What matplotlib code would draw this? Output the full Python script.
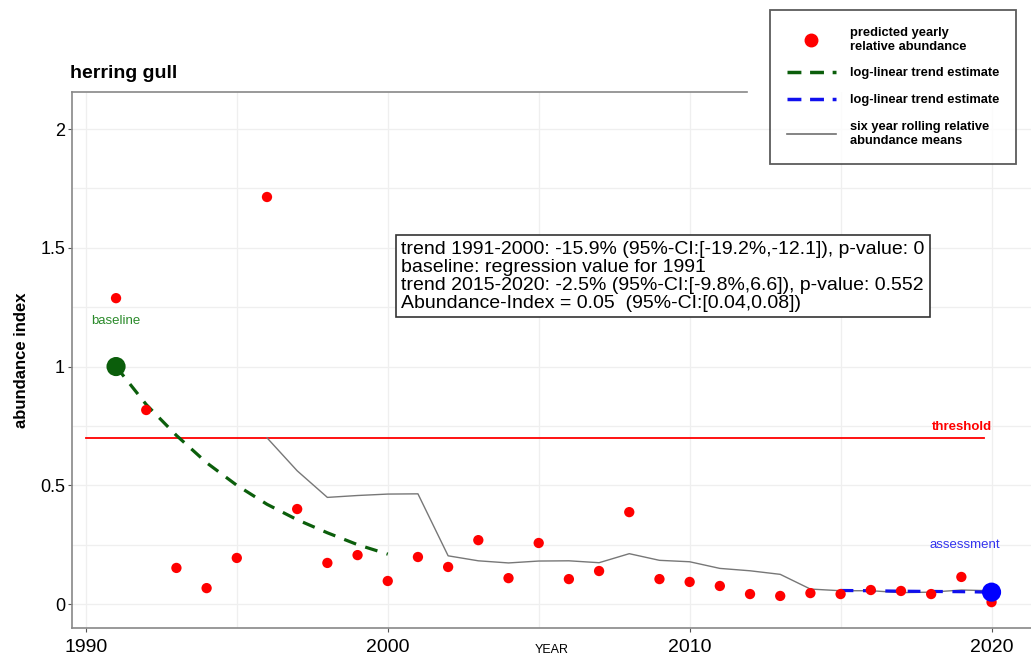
import matplotlib.pyplot as plt
from matplotlib.lines import Line2D

plt.rcParams['font.family'] = ['Liberation Sans', 'DejaVu Sans']

# yearly predicted relative abundance
years = list(range(1991, 2021))
abundance = [1.288, 0.817, 0.152, 0.067, 0.194, 1.714, 0.400, 0.173, 0.206, 0.097,
             0.198, 0.156, 0.269, 0.109, 0.257, 0.105, 0.139, 0.387, 0.105, 0.093,
             0.076, 0.042, 0.034, 0.046, 0.042, 0.059, 0.055, 0.042, 0.114, 0.008]

# six year rolling means
roll_years = list(range(1996, 2021))
roll_means = [0.700, 0.561, 0.449, 0.457, 0.463, 0.464, 0.203, 0.182, 0.173, 0.181,
              0.182, 0.174, 0.212, 0.184, 0.178, 0.150, 0.140, 0.125, 0.063, 0.056,
              0.056, 0.048, 0.050, 0.059, 0.056]

# log-linear trends
trend1_years = list(range(1991, 2001))
trend1_vals = [1.0, 0.84, 0.71, 0.595, 0.50, 0.42, 0.355, 0.30, 0.25, 0.21]
trend2_years = list(range(2015, 2021))
trend2_vals = [0.057, 0.056, 0.054, 0.053, 0.052, 0.050]

threshold = 0.7
baseline = (1991, 1.0)
assessment = (2020, 0.05)

info = ("trend 1991-2000: -15.9% (95%-CI:[-19.2%,-12.1]), p-value: 0\n"
        "baseline: regression value for 1991\n"
        "trend 2015-2020: -2.5% (95%-CI:[-9.8%,6.6]), p-value: 0.552\n"
        "Abundance-Index = 0.05  (95%-CI:[0.04,0.08])")

fig = plt.figure(figsize=(10.31, 6.64), dpi=100)
ax = fig.add_axes([0.0698, 0.0542, 0.93, 0.8072])

ax.set_xlim(1989.54, 2021.3)
ax.set_ylim(-0.101, 2.156)

# grid
ax.set_xticks([1990, 2000, 2010, 2020])
ax.set_xticks([1995, 2005, 2015], minor=True)
ax.set_yticks([0, 0.5, 1, 1.5, 2])
ax.set_yticklabels(['0', '0.5', '1', '1.5', '2'])
ax.set_yticks([0.25, 0.75, 1.25, 1.75], minor=True)
ax.grid(True, which='both', color='#efefef', lw=0.9)
ax.set_axisbelow(True)
ax.tick_params(axis='both', which='minor', length=0)
ax.tick_params(axis='y', length=3, color='#555555', labelsize=13, pad=2)
ax.tick_params(axis='x', length=3, color='#555555', labelsize=14, pad=5)

for s in ['left', 'bottom', 'top']:
    ax.spines[s].set_color('#888888')
    ax.spines[s].set_linewidth(1.2)
ax.spines['right'].set_visible(False)
ax.spines['top'].set_bounds(1989.54, 2011.9)

ax.axhline(threshold, xmin=0.0146, xmax=0.9508, color='red', lw=1.3, zorder=2)
ax.plot(roll_years, roll_means, color='#777777', lw=1.0, zorder=3)
ax.plot(trend1_years, trend1_vals, color='#0b5e0b', lw=2.3, ls=(0, (4, 3)), zorder=3)
ax.plot(trend2_years, trend2_vals, color='#1010ee', lw=2.3, ls=(0, (4, 3)), zorder=3)
ax.scatter(years, abundance, s=55, color='red', zorder=4, edgecolors='none')
ax.scatter([baseline[0]], [baseline[1]], s=190, color='#0b5e0b', zorder=5, edgecolors='none')
ax.scatter([assessment[0]], [assessment[1]], s=190, color='#0000ff', zorder=5, edgecolors='none')

ax.text(1991, 1.19, 'baseline', color='#2a8a2a', fontsize=9.5, ha='center', va='center')
ax.text(2020, 0.745, 'threshold', color='red', fontsize=9.5, fontweight='bold',
        ha='right', va='center')
ax.text(2020.3, 0.25, 'assessment', color='#3333ee', fontsize=9.5, ha='right', va='center')

ax.text(2000.45, 1.53, info, fontsize=14, va='top', ha='left', linespacing=1.08,
        bbox=dict(boxstyle='square,pad=0.28', fc='white', ec='#333333', lw=1.2))

ax.set_xlabel('YEAR', fontsize=9, labelpad=-9)
ax.set_ylabel('abundance index', fontsize=12, fontweight='bold', labelpad=8)

fig.text(0.068, 0.89, 'herring gull', fontsize=14, fontweight='bold', ha='left', va='center')

handles = [
    Line2D([], [], ls='none', marker='o', color='red', markersize=9),
    Line2D([], [], color='#0b5e0b', lw=2.5, ls=(0, (4, 2.5))),
    Line2D([], [], color='#1010ee', lw=2.5, ls=(0, (4, 2.5))),
    Line2D([], [], color='#707070', lw=1.2),
]
labels = ['predicted yearly\nrelative abundance', 'log-linear trend estimate',
          'log-linear trend estimate', 'six year rolling relative\nabundance means']
leg = fig.legend(handles, labels, loc='upper left', bbox_to_anchor=(0.7468, 0.985),
                 frameon=True, fancybox=False, edgecolor='#333333',
                 prop={'weight': 'bold', 'size': 9.3}, handlelength=3.8,
                 labelspacing=1.15, borderpad=1.3, handletextpad=1.1, borderaxespad=0)
leg.get_frame().set_linewidth(1.3)

fig.savefig('out.png', dpi=100)
